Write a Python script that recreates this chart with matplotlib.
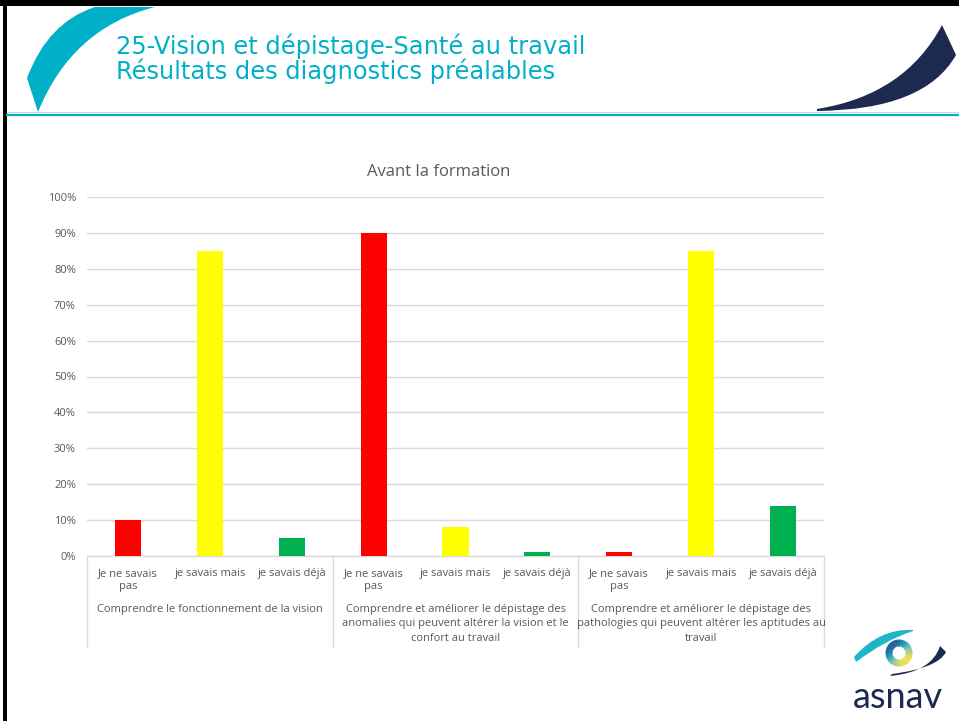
import matplotlib.pyplot as plt
import numpy as np
from matplotlib.patches import PathPatch, Wedge, Rectangle
from matplotlib.path import Path
from matplotlib.colors import LinearSegmentedColormap

# Data (percent of answers)
responses = ["Je ne savais\npas", "je savais mais", "je savais déjà"]
topics = [
    "Comprendre le fonctionnement de la vision",
    "Comprendre et améliorer le dépistage des\nanomalies qui peuvent altérer la vision et le\nconfort au travail",
    "Comprendre et améliorer le dépistage des\npathologies qui peuvent altérer les aptitudes au\ntravail",
]
ne_savais_pas = [10, 90, 1]
savais_mais = [85, 8, 85]
savais_deja = [5, 1, 14]
bar_colors = ["#FF0000", "#FFFF00", "#00B050"]

title_line1 = "25-Vision et dépistage-Santé au travail"
title_line2 = "Résultats des diagnostics préalables"
chart_title = "Avant la formation"

W, H = 959, 721
TEAL = "#00B0C8"
NAVY = "#1B2A4E"
GREY_TXT = "#595959"
GRID = "#D9D9D9"

plt.rcParams["font.family"] = ["Open Sans", "DejaVu Sans"]

fig = plt.figure(figsize=(W / 100, H / 100), dpi=100)
fig.patch.set_facecolor("white")

# overlay in pixel coordinates for slide decoration
deco = fig.add_axes([0, 0, 1, 1])
deco.set_xlim(0, W)
deco.set_ylim(H, 0)
deco.axis("off")


def bez_shape(outer, inner):
    verts = [outer[0], outer[1], outer[2], inner[2], inner[1], inner[0], outer[0]]
    codes = [Path.MOVETO, Path.CURVE3, Path.CURVE3, Path.LINETO,
             Path.CURVE3, Path.CURVE3, Path.CLOSEPOLY]
    return Path(verts, codes)


# teal swoosh top left
deco.add_patch(PathPatch(bez_shape([(27, 78), (48, 22), (95, 7)],
                                   [(38, 112), (72, 28), (155, 7)]),
                         facecolor=TEAL, edgecolor="none"))
# navy swoosh top right
deco.add_patch(PathPatch(bez_shape([(817, 109), (905, 95), (942, 25)],
                                   [(817, 111), (925, 110), (956, 55)]),
                         facecolor=NAVY, edgecolor="none"))

# black frame of the slide
deco.add_patch(Rectangle((0, 0), W, 6, color="black", lw=0))
deco.add_patch(Rectangle((3, 0), 4, H, color="black", lw=0))

# header rule
deco.plot([7, W], [112, 112], color="#CCCCCC", lw=0.6)
deco.plot([7, W], [114.5, 114.5], color=TEAL, lw=1.6)

deco.text(116, 54, title_line1, color=TEAL, fontsize=17.4, va="baseline",
          ha="left", family="DejaVu Sans")
deco.text(116, 79, title_line2, color=TEAL, fontsize=17.4, va="baseline",
          ha="left", family="DejaVu Sans")

# logo bottom right
deco.add_patch(PathPatch(bez_shape([(854, 657), (880, 628), (913, 630)],
                                   [(856, 662), (885, 640), (913, 631)]),
                         facecolor="#1FB5C9", edgecolor="none"))
deco.add_patch(PathPatch(bez_shape([(890, 676), (932, 672), (940, 646)],
                                   [(892, 674), (938, 668), (946, 652)]),
                         facecolor=NAVY, edgecolor="none"))
ring_cmap = LinearSegmentedColormap.from_list("ring", ["#1B5E96", "#1E9BC0", "#8CC8A0", "#F0E04A"])
for a in range(0, 360, 10):
    # colour goes from blue (lower left) to yellow (upper right)
    t = (np.cos(np.radians(a - 45)) + 1) / 2
    deco.add_patch(Wedge((899, 653), 13.5, a - 0.5, a + 10.5, width=7,
                         facecolor=ring_cmap(t), edgecolor="none"))
deco.text(898, 697, "asnav", color=NAVY, fontsize=26, ha="center", va="center",
          family=["Lato", "DejaVu Sans"])

# chart
ax = fig.add_axes([87 / W, 1 - 556 / H, (824 - 87) / W, (556 - 197) / H])
ax.set_zorder(2)
ax.patch.set_alpha(0)

series = [ne_savais_pas, savais_mais, savais_deja]
n_topics = len(topics)
n_resp = len(responses)
for t in range(n_topics):
    for r in range(n_resp):
        x = t * n_resp + r
        ax.bar(x, series[r][t] / 100, width=0.32, color=bar_colors[r], zorder=3)

ax.set_xlim(-0.5, n_topics * n_resp - 0.5)
ax.set_ylim(0, 1)
ax.set_yticks(np.arange(0, 1.01, 0.1))
ax.set_yticklabels([f"{int(v)}%" for v in np.arange(0, 101, 10)],
                   fontsize=8, color=GREY_TXT)
ax.tick_params(axis="y", length=0, pad=8)
ax.set_xticks([])
ax.grid(axis="y", color=GRID, lw=1, zorder=0)
for s in ["top", "right", "left"]:
    ax.spines[s].set_visible(False)
ax.spines["bottom"].set_color(GRID)
ax.spines["bottom"].set_linewidth(1)

# chart title sits a little left of the plot centre, as on the slide
ax.text(3.79, 1.07, chart_title, transform=ax.get_xaxis_transform(),
        ha="center", va="center", fontsize=12, color=GREY_TXT)

# two-level category axis
for t in range(n_topics):
    for r in range(n_resp):
        x = t * n_resp + r
        ax.text(x, -0.034, responses[r], transform=ax.get_xaxis_transform(),
                ha="center", va="top", fontsize=8, color=GREY_TXT,
                linespacing=1.2)
    ax.text(t * n_resp + 1, -0.133, topics[t], transform=ax.get_xaxis_transform(),
            ha="center", va="top", fontsize=8, color=GREY_TXT, linespacing=1.45)
for b in range(n_topics + 1):
    ax.plot([b * n_resp - 0.5] * 2, [0, -0.253], transform=ax.get_xaxis_transform(),
            color=GRID, lw=1, clip_on=False)

fig.savefig("out.png", dpi=100)
